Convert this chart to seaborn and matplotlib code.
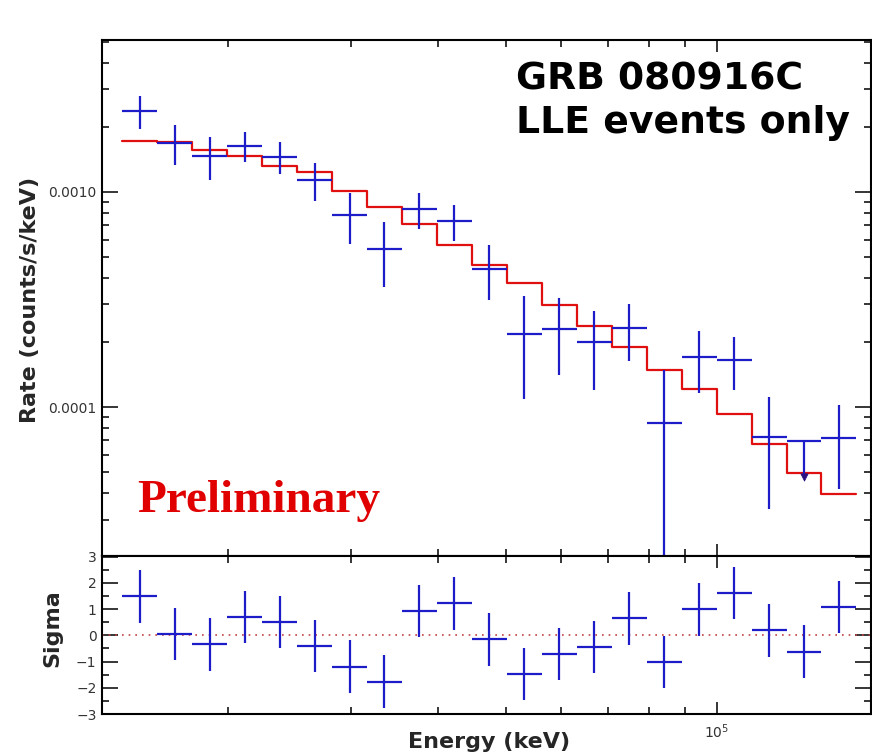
import numpy as np
import pandas as pd
import matplotlib
matplotlib.use("Agg")
import matplotlib.pyplot as plt
import matplotlib.ticker as mticker
import seaborn as sns

# ---------------- data ----------------
bin_edges_kev = [14125, 15849, 17783, 19953, 22387, 25119, 28184, 31623, 35481,
                 39811, 44668, 50119, 56234, 63096, 70795, 79433, 89125, 100000,
                 112202, 125893, 141254, 158489]

rate = [2.38e-3, 1.69e-3, 1.47e-3, 1.64e-3, 1.46e-3, 1.14e-3, 0.781e-3, 0.543e-3,
        0.833e-3, 0.733e-3, 0.439e-3, 0.219e-3, 0.231e-3, 0.200e-3, 0.233e-3,
        0.0843e-3, 0.171e-3, 0.166e-3, 0.0725e-3, 0.0695e-3, 0.0718e-3]

rate_err = [0.42e-3, 0.36e-3, 0.33e-3, 0.26e-3, 0.25e-3, 0.23e-3, 0.21e-3, 0.18e-3,
            0.16e-3, 0.14e-3, 0.125e-3, 0.11e-3, 0.09e-3, 0.08e-3, 0.07e-3,
            0.065e-3, 0.055e-3, 0.046e-3, 0.039e-3, 0.0, 0.030e-3]

model_rate = [1.726e-3, 1.708e-3, 1.567e-3, 1.471e-3, 1.321e-3, 1.233e-3, 1.011e-3,
              0.851e-3, 0.710e-3, 0.564e-3, 0.457e-3, 0.379e-3, 0.298e-3, 0.239e-3,
              0.190e-3, 0.149e-3, 0.121e-3, 0.0927e-3, 0.0673e-3, 0.0493e-3, 0.0394e-3]

sigma = [1.49, 0.06, -0.34, 0.70, 0.52, -0.41, -1.19, -1.76, 0.92, 1.22, -0.15,
         -1.48, -0.72, -0.44, 0.65, -1.01, 0.99, 1.62, 0.19, -0.62, 1.09]
sigma_err = [1.0, 1.0, 1.0, 1.0, 1.0, 1.0, 1.0, 1.0, 1.0, 1.0, 1.0,
             1.0, 1.0, 1.0, 1.0, 1.0, 1.0, 1.0, 1.0, 1.0, 1.0]

upper_limit_bin = 19
upper_limit_tip = 4.72e-5

rate_ticks = [1e-4, 1e-3]
rate_tick_labels = ["0.0001", "0.0010"]
sigma_ticks = [-3, -2, -1, 0, 1, 2, 3]

# ---------------- derived tables ----------------
edges = np.array(bin_edges_kev, dtype=float)
lo, hi = edges[:-1], edges[1:]
centers = np.sqrt(lo * hi)
xerr = [centers - lo, hi - centers]

rate_a = np.array(rate)
err_lo = np.array(rate_err)
err_hi = np.array(rate_err)
err_lo[upper_limit_bin] = rate_a[upper_limit_bin] - upper_limit_tip
err_hi[upper_limit_bin] = 0.0

model_df = pd.DataFrame({"energy": edges,
                         "model": list(model_rate) + [model_rate[-1]]})

# ---------------- style ----------------
sns.set_theme(style="ticks")
plt.rcParams["font.family"] = ["DejaVu Sans"]
plt.rcParams["axes.linewidth"] = 1.5
plt.rcParams["axes.unicode_minus"] = True

BLUE = "#1c1cc8"
RED = "#e01010"
TICKCOL = "#333333"

W, H = 872, 754
fig = plt.figure(figsize=(W / 100, H / 100), dpi=100)
fig.patch.set_facecolor("white")

xl, xr = 102, 870.5
ax = fig.add_axes([xl / W, 1 - 556 / H, (xr - xl) / W, (556 - 40) / H])
axr = fig.add_axes([xl / W, 1 - 714 / H, (xr - xl) / W, (714 - 556) / H])

xlim = (13213, 166000)

# ---- top panel ----
ax.errorbar(centers, rate_a, xerr=xerr, yerr=[err_lo, err_hi], fmt="none",
            ecolor=BLUE, elinewidth=1.6, capsize=0, zorder=3)
sns.lineplot(data=model_df, x="energy", y="model", ax=ax, color=RED,
             drawstyle="steps-post", linewidth=1.6, zorder=2, sort=True,
             estimator=None)
sns.scatterplot(x=[centers[upper_limit_bin]], y=[upper_limit_tip], ax=ax,
                marker="v", s=28, color="#2a1080", edgecolor="#2a1080",
                linewidth=0.5, zorder=4, legend=False)

ax.set_xscale("log")
ax.set_yscale("log")
ax.set_xlim(*xlim)
ax.set_ylim(2.03e-5, 5.09e-3)
ax.yaxis.set_major_locator(mticker.FixedLocator(rate_ticks))
ax.yaxis.set_major_formatter(mticker.FixedFormatter(rate_tick_labels))
ax.yaxis.set_minor_locator(mticker.LogLocator(base=10, subs=np.arange(2, 10)))
ax.yaxis.set_minor_formatter(mticker.NullFormatter())
ax.xaxis.set_minor_locator(mticker.LogLocator(base=10, subs=np.arange(2, 10)))
ax.xaxis.set_major_formatter(mticker.NullFormatter())
ax.xaxis.set_minor_formatter(mticker.NullFormatter())
ax.set_xlabel("")
ax.set_ylabel("")

# ---- residual panel ----
axr.errorbar(centers, sigma, xerr=xerr, yerr=sigma_err, fmt="none",
             ecolor=BLUE, elinewidth=1.6, capsize=0, zorder=3)
axr.axhline(0, color="#c04040", linestyle=(0, (1, 3)), linewidth=1.2, zorder=1)
axr.set_xscale("log")
axr.set_xlim(*xlim)
axr.set_ylim(-3, 3.03)
axr.yaxis.set_major_locator(mticker.FixedLocator(sigma_ticks))
axr.yaxis.set_minor_locator(mticker.MultipleLocator(0.5))
axr.xaxis.set_minor_locator(mticker.LogLocator(base=10, subs=np.arange(2, 10)))
axr.xaxis.set_major_formatter(mticker.LogFormatterSciNotation())
axr.xaxis.set_minor_formatter(mticker.NullFormatter())

for a in (ax, axr):
    for s in a.spines.values():
        s.set_linewidth(1.5)
        s.set_color("black")
    a.tick_params(which="both", direction="in", top=True, right=True,
                  color="black", width=1.1, labelsize=10, labelcolor=TICKCOL, pad=4)
    a.tick_params(axis="y", which="major", length=11.5)
    a.tick_params(axis="x", which="major", length=8.5)
    a.tick_params(which="minor", length=5)
    a.grid(False)
axr.tick_params(axis="x", which="major", pad=6)

# ---------------- text ----------------
fig.text(30 / W, 1 - 300 / H, "Rate (counts/s/keV)", rotation=90, ha="center",
         va="center", fontsize=16, fontweight="bold")
fig.text(52 / W, 1 - 628 / H, "Sigma", rotation=90, ha="center", va="center",
         fontsize=16, fontweight="bold")
fig.text(489 / W, 1 - 748 / H, "Energy (keV)", ha="center", va="baseline",
         fontsize=16, fontweight="bold")
fig.text(516 / W, 1 - 90 / H, "GRB 080916C", ha="left", va="baseline",
         fontsize=27.2, fontweight="bold", color="black")
fig.text(516 / W, 1 - 133 / H, "LLE events only", ha="left", va="baseline",
         fontsize=27.2, fontweight="bold", color="black")
fig.text(137 / W, 1 - 512 / H, "Preliminary", ha="left", va="baseline",
         family=["Liberation Serif", "DejaVu Serif"], fontsize=34,
         fontweight="bold", color="#e00000")

fig.savefig("out.png", dpi=100, facecolor="white")
